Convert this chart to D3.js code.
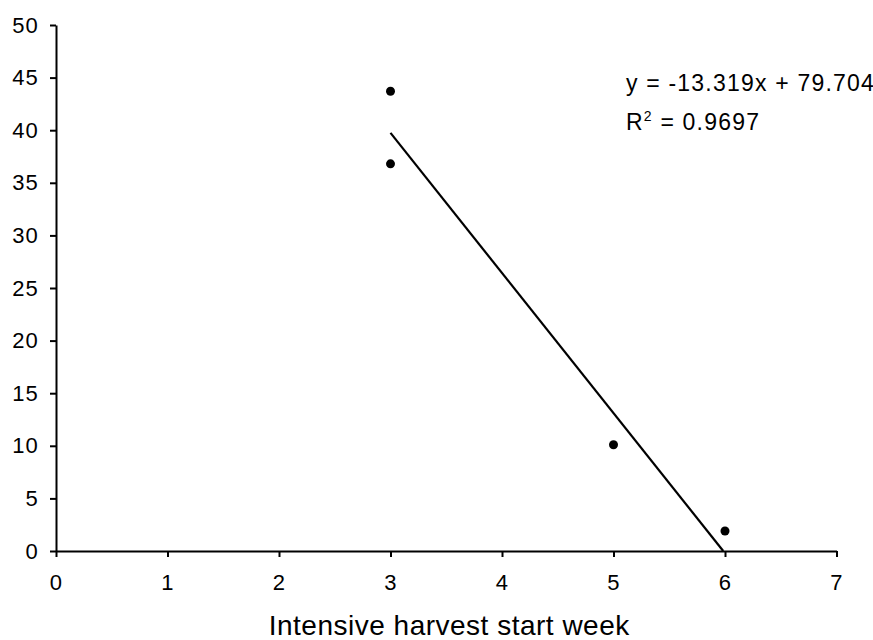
<!DOCTYPE html>
<html><head><meta charset="utf-8">
<script src="https://cdn.jsdelivr.net/npm/d3@7"></script>
<style>html,body{margin:0;padding:0;background:#fff;overflow:hidden}text{font-family:"Liberation Sans",Arial,sans-serif;fill:#000}</style>
</head><body>
<script>
const weeks = [3, 3, 5, 6];
const values = [43.7, 36.8, 10.1, 1.9];
const xTicks = [0, 1, 2, 3, 4, 5, 6, 7];
const yTicks = [0, 5, 10, 15, 20, 25, 30, 35, 40, 45, 50];
const trendSlope = -13.319;
const trendIntercept = 79.704;
const r2 = "0.9697";
const xLabel = "Intensive harvest start week";

const W = 873, H = 640;
const svg = d3.select("body").append("svg").attr("width", W).attr("height", H);
const x = d3.scaleLinear().domain([0, 7]).range([56, 836.5]);
const y = d3.scaleLinear().domain([0, 50]).range([551, 25]);

const xAxis = svg.append("g").attr("transform", `translate(0,${y(0)})`)
  .call(d3.axisBottom(x).tickValues(xTicks).tickFormat(d3.format("d")).tickSize(6).tickPadding(17).tickSizeOuter(0));
const yAxis = svg.append("g").attr("transform", `translate(${x(0)},0)`)
  .call(d3.axisLeft(y).tickValues(yTicks).tickFormat(d3.format("d")).tickSize(6).tickPadding(10).tickSizeOuter(0));
[xAxis, yAxis].forEach(g => {
  g.selectAll("path").attr("stroke", "#000").attr("stroke-width", 2);
  g.selectAll("line").attr("stroke", "#000").attr("stroke-width", 2);
  g.selectAll("text").attr("font-size", 22).attr("letter-spacing", 1.2)
    .attr("font-family", '"Liberation Sans",Arial,sans-serif').attr("fill", "#000");
});
yAxis.selectAll("text").attr("dx", -1);

// trend line from x=3 to where it hits y=0
const xMin = d3.min(weeks);
const xZero = -trendIntercept / trendSlope;
const xEnd = Math.min(d3.max(weeks), xZero);
svg.append("line")
  .attr("x1", x(xMin)).attr("y1", y(trendSlope * xMin + trendIntercept))
  .attr("x2", x(xEnd)).attr("y2", y(Math.max(0, trendSlope * xEnd + trendIntercept)))
  .attr("stroke", "#000").attr("stroke-width", 2.2);

svg.selectAll("circle.pt").data(weeks.map((w, i) => [w, values[i]])).enter()
  .append("circle").attr("class", "pt")
  .attr("cx", d => x(d[0])).attr("cy", d => y(d[1])).attr("r", 4.5).attr("fill", "#000");

svg.append("text").attr("x", 626).attr("y", 91).attr("font-size", 23).attr("letter-spacing", 1.2)
  .text(`y = ${trendSlope}x + ${trendIntercept}`);
const t2 = svg.append("text").attr("x", 626).attr("y", 130).attr("font-size", 23).attr("letter-spacing", 1.2);
t2.append("tspan").text("R");
t2.append("tspan").attr("font-size", 14).attr("dy", -9).text("2");
t2.append("tspan").attr("dy", 9).text(` = ${r2}`);

svg.append("text").attr("x", (x(0) + x(7)) / 2 + 3).attr("y", 635).attr("text-anchor", "middle")
  .attr("font-size", 28).attr("letter-spacing", 0.5).text(xLabel);
</script>
</body></html>
